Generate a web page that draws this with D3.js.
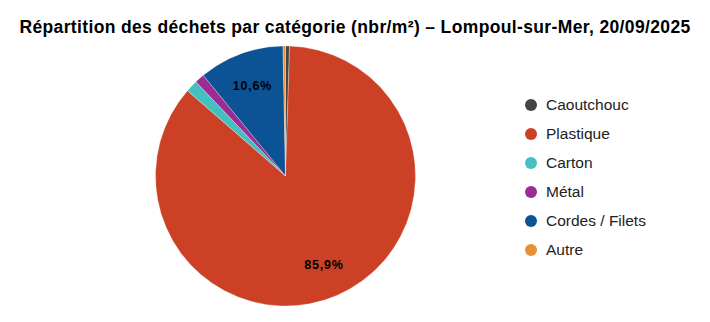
<!DOCTYPE html>
<html>
<head>
<meta charset="utf-8">
<script src="https://cdn.jsdelivr.net/npm/d3@7"></script>
<style>
  body { margin: 0; background: #fff; }
  svg { font-family: "Liberation Sans", Arial, sans-serif; }
</style>
</head>
<body>
<div id="chart"></div>
<script>
var categories = ["Caoutchouc", "Plastique", "Carton", "Métal", "Cordes / Filets", "Autre"];
var values = [0.5, 85.9, 1.5, 1.2, 10.6, 0.3];
var colors = ["#444444", "#cc4125", "#45c0c0", "#9c2b93", "#0b5394", "#e69138"];
var title = "Répartition des déchets par catégorie (nbr/m²) – Lompoul-sur-Mer, 20/09/2025";

var width = 710, height = 322;
var cx = 285.5, cy = 176, radius = 130;

var svg = d3.select("#chart")
    .append("svg")
    .attr("width", width)
    .attr("height", height);

svg.append("text")
    .attr("x", 355)
    .attr("y", 33)
    .attr("text-anchor", "middle")
    .style("font-size", "17.5px")
    .style("font-weight", "bold")
    .style("letter-spacing", "0.36px")
    .style("fill", "#000")
    .text(title);

var data = categories.map(function(c, i) {
    return {name: c, value: values[i], color: colors[i]};
});

var total = d3.sum(values);

var pie = d3.pie()
    .sort(null)
    .value(function(d) { return d.value; });

var arc = d3.arc()
    .innerRadius(0)
    .outerRadius(radius);

var labelArc = d3.arc()
    .innerRadius(radius * 0.74)
    .outerRadius(radius * 0.74);

var g = svg.append("g")
    .attr("transform", "translate(" + cx + "," + cy + ")");

var arcs = pie(data);

g.selectAll("path")
    .data(arcs)
    .enter()
    .append("path")
    .attr("d", arc)
    .style("fill", function(d) { return d.data.color; })
    .style("stroke", "#fff")
    .style("stroke-width", 0.3);

// labels only on the big slices
g.selectAll("text.lbl")
    .data(arcs.filter(function(d) { return d.data.value / total > 0.05; }))
    .enter()
    .append("text")
    .attr("class", "lbl")
    .attr("transform", function(d) { return "translate(" + labelArc.centroid(d) + ")"; })
    .attr("text-anchor", "middle")
    .attr("dy", "0.35em")
    .style("font-size", "12.5px")
    .style("font-weight", "bold")
    .style("letter-spacing", "0.8px")
    .style("fill", "#000")
    .text(function(d) { return (d.data.value / total * 100).toFixed(1).replace(".", ",") + "%"; });

// legend
var legend = svg.append("g")
    .attr("transform", "translate(531,105)");

var rows = legend.selectAll("g")
    .data(data)
    .enter()
    .append("g")
    .attr("transform", function(d, i) { return "translate(0," + (i * 29) + ")"; });

rows.append("circle")
    .attr("r", 6)
    .style("fill", function(d) { return d.color; });

rows.append("text")
    .attr("x", 15)
    .attr("dy", "0.35em")
    .style("font-size", "15.5px")
    .style("fill", "#222")
    .text(function(d) { return d.name; });
</script>
</body>
</html>
